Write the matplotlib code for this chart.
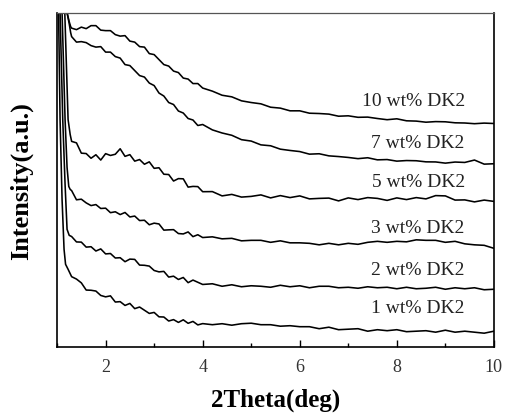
import matplotlib
matplotlib.use("Agg")
import matplotlib.pyplot as plt
from matplotlib.ticker import MultipleLocator, NullLocator

# ---- data (intensity in arbitrary units) ----
grid_early = [1.3, 1.4, 1.5, 1.6, 1.7, 1.8, 1.9, 2.0, 2.1, 2.2, 2.3, 2.4, 2.5, 2.6,
              2.7, 2.8, 2.9, 3.0, 3.1, 3.2, 3.3, 3.4, 3.5, 3.6, 3.7, 3.8, 3.9, 4.0]
grid_late = [4.2, 4.4, 4.6, 4.8, 5.0, 5.2, 5.4, 5.6, 5.8, 6.0, 6.2, 6.4, 6.6, 6.8, 7.0,
             7.2, 7.4, 7.6, 7.8, 8.0, 8.2, 8.4, 8.6, 8.8, 9.0, 9.2, 9.4, 9.6, 9.8, 10.0]

# steep low-angle lead-in of each pattern
lead_x_10 = [1.10, 1.206, 1.25, 1.28]
lead_y_10 = [500, 335, 326, 321]
lead_x_7 = [1.10, 1.206, 1.25, 1.28]
lead_y_7 = [500, 335, 324, 315]
lead_x_5 = [1.06, 1.159, 1.227, 1.27]
lead_y_5 = [500, 335, 228, 213]
lead_x_3 = [1.00, 1.103, 1.165, 1.206, 1.241, 1.27]
lead_y_3 = [500, 335, 228, 180, 161, 158]
lead_x_2 = [0.98, 1.062, 1.117, 1.165, 1.206, 1.25]
lead_y_2 = [500, 335, 228, 163, 118, 112]
lead_x_1 = [0.96, 1.031, 1.062, 1.103, 1.144, 1.175, 1.227]
lead_y_1 = [500, 335, 228, 148, 98, 83, 78]

wt10 = [319.5, 318, 320.5, 319, 322, 322, 317.5, 317, 317, 313, 311.5, 312, 306.5, 305.5,
        301, 300.5, 294, 293, 288, 283, 281.5, 276.5, 275, 269.5, 268.5, 264, 264, 259.5,
        256.4, 252.3, 250.7, 246.7, 245, 243.7, 240.3, 239.4, 236.7, 236.7, 234.3, 234,
        233.4, 231.3, 231.7, 230.2, 230.4, 229, 227.8, 228.7, 226.7, 226.4, 225.3, 225.9,
        225.7, 224.7, 224.5, 223.8, 224.4, 224]
wt7 = [311, 305.5, 306, 305, 302, 300.5, 301, 295.5, 295.5, 291, 289.5, 283, 282, 277,
       272, 270.5, 264.5, 262, 254.5, 251.5, 245, 243, 236.5, 234.5, 229, 227.5, 222, 223,
       217.6, 214.5, 212.2, 207.8, 206.4, 202.6, 201.7, 198.3, 197, 195.9, 193.3, 193.7,
       191.6, 190.9, 190, 188.8, 189.7, 187.6, 187.9, 186.3, 186.9, 186.7, 185.6, 185.5,
       184.3, 185.4, 185, 187.4, 183.3, 183.7]
wt5 = [206.1, 204.6, 194.3, 193.9, 189.2, 192.7, 187.4, 193.8, 192, 193.2, 198.7, 191.1,
       192.8, 186.3, 187.9, 183.2, 185.6, 179.1, 179.7, 173.2, 172.9, 166.4, 168.8, 168.6,
       160.3, 161, 160.8, 155.7,
       155.8, 151.5, 153, 150.3, 151, 152.5, 149.5, 151.8, 149.8, 151.5, 148.5, 149, 149.3,
       146.5, 149.5, 147.8, 149.8, 149, 147, 149.5, 147.8, 149.8, 148.5, 151.8, 151.5,
       147.3, 147.5, 145.5, 147.3, 146]
wt3 = [156.8, 147.6, 148.2, 144.5, 141.8, 142.8, 138.9, 139.2, 134.7, 135.6, 132.8, 134.9,
       130.4, 131.3, 126.8, 127.1, 122.6, 124.2, 123.4, 117.2, 117.5, 117.7, 113.8, 113.4,
       115.4, 110.7, 112.6, 109.8,
       110.5, 108.5, 109, 106.5, 107, 107, 105, 106.5, 104.5, 104.5, 104, 102.5, 104, 102.5,
       104, 103, 105, 106, 105, 106, 105.5, 107.5, 107, 107, 105, 106, 103.5, 102.5, 102, 99]
wt2 = [110.8, 105.4, 105.2, 100.2, 100.6, 96.3, 98.4, 93.4, 93.8, 89.3, 89.6, 85.6, 88.2,
       87.9, 82.2, 82, 81.2, 76.8, 75.4, 75.9, 70.2, 71.1, 67.8, 69.8, 64.6, 67.2, 65, 62.8,
       63.5, 61, 62.5, 60.5, 61.5, 61, 60, 62, 60.5, 61.5, 59.5, 61, 61, 59.5, 60, 59, 60.5,
       59.5, 60, 58.5, 60, 58.5, 59, 60, 58, 59.5, 58.5, 59.5, 57.5, 58]
wt1 = [70.6, 68.2, 64.4, 57.2, 57, 56.2, 51.8, 50.4, 51.4, 45.2, 45.6, 41.8, 43.8, 38.6,
       40.2, 37, 33.8, 34.8, 30.4, 30.2, 26.2, 27.6, 24.8, 27.4, 23.9, 25.8, 22.3, 23.6,
       22.5, 23.5, 22, 23.5, 24, 22.5, 22.5, 21, 21.5, 20.5, 20.5, 18.5, 20, 17.5, 18, 18.5,
       16, 17.5, 16.5, 17.5, 15.5, 16, 16.5, 15, 17, 15, 16, 15, 14, 16]

labels = ["10 wt% DK2", "7 wt% DK2", "5 wt% DK2", "3 wt% DK2", "2 wt% DK2", "1 wt% DK2"]
label_y = [247, 205, 166, 120, 78, 40]

series = [(lead_x_10, lead_y_10, wt10), (lead_x_7, lead_y_7, wt7), (lead_x_5, lead_y_5, wt5),
          (lead_x_3, lead_y_3, wt3), (lead_x_2, lead_y_2, wt2), (lead_x_1, lead_y_1, wt1)]

# ---- plot ----
fig = plt.figure(figsize=(5.05, 4.14), dpi=100)
ax = fig.add_axes([0.113, 0.159, 0.865, 0.808])

grid = grid_early + grid_late
for lx, ly, vals in series:
    ax.plot(lx + grid, ly + vals, color="black", lw=1.15)

for lab, yv in zip(labels, label_y):
    ax.text(9.40, yv, lab, ha="right", va="center", fontsize=14,
            family="Liberation Serif", color="#222222")

ax.set_xlim(1, 10)
ax.set_ylim(0, 335)
ax.xaxis.set_major_locator(MultipleLocator(2))
ax.xaxis.set_minor_locator(MultipleLocator(1))
ax.yaxis.set_major_locator(NullLocator())
ax.tick_params(axis="x", which="major", direction="in", length=5, width=1,
               labelsize=13, pad=8, labelcolor="#333333")
ax.tick_params(axis="x", which="minor", direction="in", length=3, width=1)
for lbl in ax.get_xticklabels():
    lbl.set_family("Liberation Serif")

for s in ["left", "bottom", "right"]:
    ax.spines[s].set_linewidth(1.2)
ax.spines["top"].set_linewidth(0.9)
ax.spines["top"].set_color("#555555")

ax.set_xlabel("2Theta(deg)", fontsize=18, fontweight="bold",
              family="Liberation Serif", labelpad=9)
ax.set_ylabel("Intensity(a.u.)", fontsize=19, fontweight="bold",
              family="Liberation Serif", labelpad=17)

fig.savefig("out.png", dpi=100)
